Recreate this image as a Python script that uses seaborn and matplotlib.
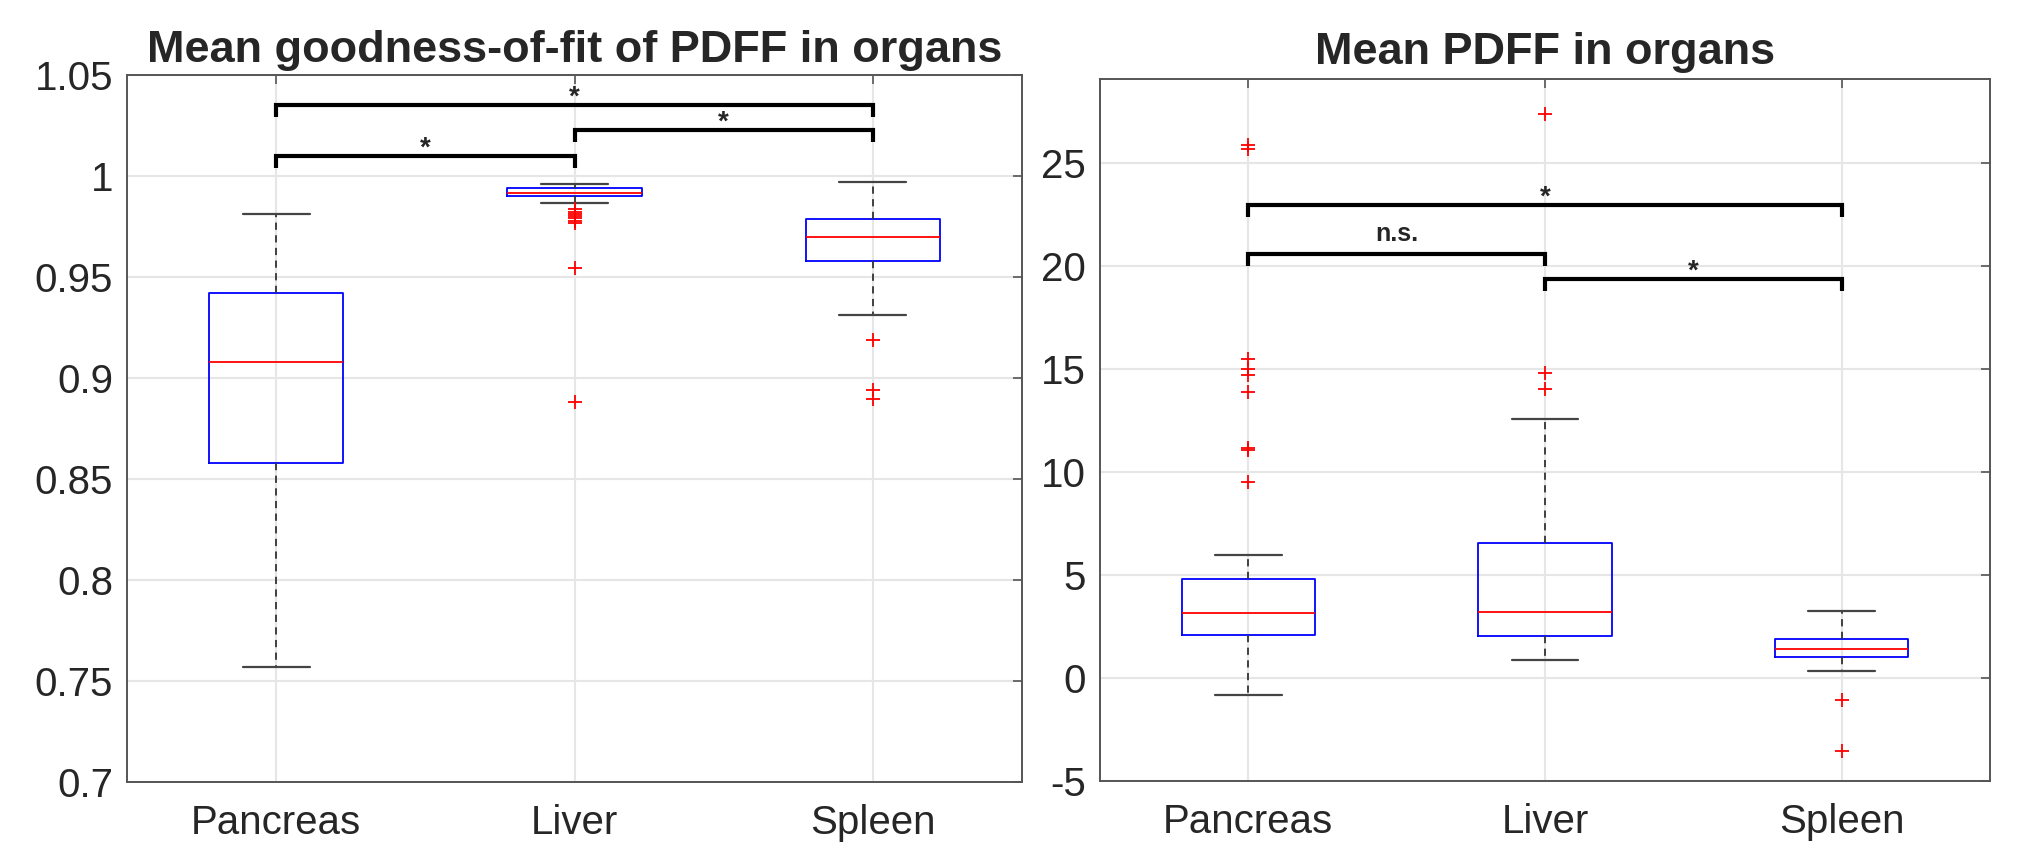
import numpy as np
import pandas as pd
import seaborn as sns
import matplotlib.pyplot as plt
from matplotlib.ticker import FuncFormatter

ORGANS = ["Pancreas", "Liver", "Spleen"]

# five-number summaries:
# lower whisker, Q1, median, Q3, upper whisker
GOF_PANCREAS = [0.757, 0.858, 0.908, 0.942, 0.981]
GOF_LIVER = [0.9866, 0.990, 0.9916, 0.994, 0.996]
GOF_SPLEEN = [0.931, 0.958, 0.970, 0.9787, 0.997]

GOF_OUT_PANCREAS = []
GOF_OUT_LIVER = [0.9835, 0.982, 0.981, 0.980, 0.979, 0.9775, 0.9765, 0.9545, 0.888]
GOF_OUT_SPLEEN = [0.919, 0.894, 0.8896]

PDFF_PANCREAS = [-0.8, 2.1, 3.15, 4.8, 6.0]
PDFF_LIVER = [0.9, 2.05, 3.2, 6.55, 12.6]
PDFF_SPLEEN = [0.35, 1.0, 1.4, 1.9, 3.25]

PDFF_OUT_PANCREAS = [25.9, 25.7, 15.5, 15.0, 14.7, 13.9, 11.2, 11.1, 9.5]
PDFF_OUT_LIVER = [27.4, 14.8, 14.05]
PDFF_OUT_SPLEEN = [-1.05, -3.55]

# significance brackets: (from, to, height, label)
GOF_BRACKETS = [("Pancreas", "Liver", 1.0099, "*"),
                ("Liver", "Spleen", 1.0228, "*"),
                ("Pancreas", "Spleen", 1.0351, "*")]
PDFF_BRACKETS = [("Pancreas", "Liver", 20.6, "n.s."),
                 ("Liver", "Spleen", 19.4, "*"),
                 ("Pancreas", "Spleen", 23.0, "*")]

GOF_TICKS = [0.7, 0.75, 0.8, 0.85, 0.9, 0.95, 1.0, 1.05]
PDFF_TICKS = [-5, 0, 5, 10, 15, 20, 25]


def to_frame(groups):
    rows = []
    for organ, vals in zip(ORGANS, groups):
        for v in vals:
            rows.append((organ, v))
    return pd.DataFrame(rows, columns=["organ", "value"])


def draw_panel(ax, boxes, outliers, brackets, ylim, yticks, drop, title, title_pad):
    sns.boxplot(data=to_frame(boxes), x="organ", y="value", order=ORGANS,
                whis=(0, 100), width=0.45, fill=False, linewidth=1.3, ax=ax,
                boxprops=dict(color="#0000ff"),
                medianprops=dict(color="#ff0000"),
                whiskerprops=dict(color="#333333", linestyle=(0, (4, 3))),
                capprops=dict(color="#444444", linewidth=1.6))
    sns.stripplot(data=to_frame(outliers), x="organ", y="value", order=ORGANS,
                  jitter=False, marker="+", color="#ff0000", size=10,
                  linewidth=1.3, ax=ax)

    for a, b, h, label in brackets:
        x0, x1 = ORGANS.index(a), ORGANS.index(b)
        ax.plot([x0, x0, x1, x1], [h - drop, h, h, h - drop], color="black",
                lw=3, solid_joinstyle="miter", solid_capstyle="butt")
        ax.annotate(label, xy=((x0 + x1) / 2, h), xytext=(0, 9 if label != "*" else 0),
                    textcoords="offset points", ha="center", va="baseline",
                    fontsize=18 if label != "*" else 20, fontweight="bold")

    ax.set_xlim(-0.5, 2.5)
    ax.set_ylim(*ylim)
    ax.set_yticks(yticks)
    ax.yaxis.set_major_formatter(FuncFormatter(lambda v, p: f"{v:g}"))
    ax.set_xlabel("")
    ax.set_ylabel("")
    ax.grid(True, color="#e6e6e6", lw=1.5)
    ax.set_axisbelow(True)
    for s in ax.spines.values():
        s.set_visible(True)
        s.set_color("#555555")
        s.set_linewidth(1.4)
    ax.tick_params(axis="both", direction="in", length=6.5, width=1.2,
                   color="#555555", labelsize=29, labelcolor="#262626",
                   top=True, right=True)
    ax.tick_params(axis="x", pad=16)
    ax.tick_params(axis="y", pad=10)
    ax.set_title(title, fontsize=32.5, fontweight="bold", pad=title_pad)


sns.set_theme(style="white")
plt.rcParams["font.family"] = ["Liberation Sans", "DejaVu Sans"]
plt.rcParams["axes.unicode_minus"] = False

fig = plt.figure(figsize=(20.24, 8.59), dpi=100)
ax1 = fig.add_axes([0.06275, 0.08964, 0.44219, 0.82305])
ax2 = fig.add_axes([0.54348, 0.09080, 0.43972, 0.81723])

draw_panel(ax1, [GOF_PANCREAS, GOF_LIVER, GOF_SPLEEN],
           [GOF_OUT_PANCREAS, GOF_OUT_LIVER, GOF_OUT_SPLEEN],
           GOF_BRACKETS, (0.7, 1.05), GOF_TICKS, 0.0058,
           "Mean goodness-of-fit of PDFF in organs", 9.5)
draw_panel(ax2, [PDFF_PANCREAS, PDFF_LIVER, PDFF_SPLEEN],
           [PDFF_OUT_PANCREAS, PDFF_OUT_LIVER, PDFF_OUT_SPLEEN],
           PDFF_BRACKETS, (-5, 29.1), PDFF_TICKS, 0.6,
           "Mean PDFF in organs", 11)

fig.savefig("out.png", dpi=100, facecolor="white")
